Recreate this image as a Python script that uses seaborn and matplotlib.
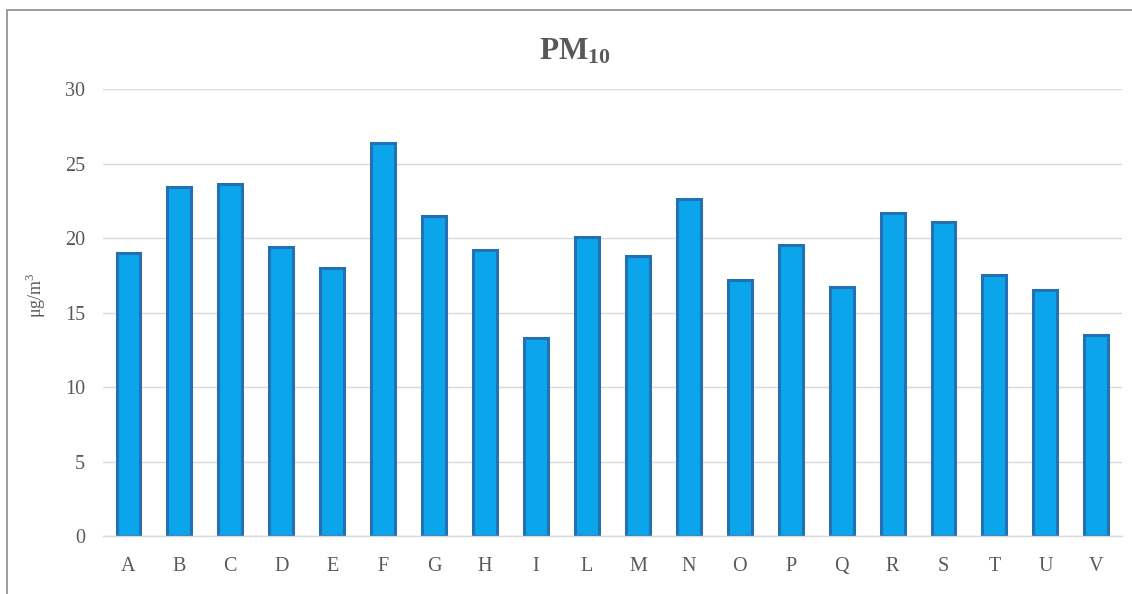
import matplotlib
matplotlib.use("Agg")
import matplotlib.pyplot as plt
import seaborn as sns
import pandas as pd
from matplotlib.patches import Rectangle

categories = ["A", "B", "C", "D", "E", "F", "G", "H", "I", "L",
              "M", "N", "O", "P", "Q", "R", "S", "T", "U", "V"]
pm10 = [19.0, 23.4, 23.6, 19.4, 18.0, 26.4, 21.5, 19.2, 13.3, 20.1,
        18.8, 22.6, 17.2, 19.5, 16.7, 21.7, 21.1, 17.5, 16.5, 13.5]
yticks = [0, 5, 10, 15, 20, 25, 30]

sns.set_style("white")
plt.rcParams['font.family'] = ['Liberation Serif', 'DejaVu Serif']
plt.rcParams['mathtext.fontset'] = 'custom'
plt.rcParams['mathtext.rm'] = 'Liberation Serif'
plt.rcParams['mathtext.bf'] = 'Liberation Serif:bold'

df = pd.DataFrame({"site": categories, "value": pm10})

fig = plt.figure(figsize=(11.32, 5.94), dpi=100)
ax = fig.add_axes([0.091, 0.0976, 0.900, 0.7525])

sns.barplot(data=df, x="site", y="value", ax=ax, color="#0BA5EC",
            edgecolor="#2470B3", linewidth=2.2, width=0.47, saturation=1)

ax.set_xlim(-0.5, len(categories) - 0.5)
ax.set_ylim(0, 30)
ax.set_yticks(yticks)
ax.yaxis.grid(True, color="#D9D9D9", linewidth=1)
ax.set_axisbelow(True)
for s in ["top", "right", "left"]:
    ax.spines[s].set_visible(False)
ax.spines["bottom"].set_color("#D9D9D9")
ax.spines["bottom"].set_linewidth(1)
ax.tick_params(axis="both", length=0, labelsize=14.5, colors="#595959")
ax.tick_params(axis="x", pad=15)
ax.tick_params(axis="y", pad=13)
ax.set_xlabel("")
ax.set_ylabel("μg/m$^3$", fontsize=13, color="#595959")
ax.yaxis.set_label_coords(-0.054, 0.54)

fig.text(0.508, 0.913, r"$\mathbf{PM_{10}}$", ha="center", va="center",
         fontsize=22.5, color="#595959")

fig.patches.append(Rectangle((7 / 1132, -0.1), 1.2, (594 - 10) / 594 + 0.1,
                             transform=fig.transFigure, fill=False,
                             edgecolor="#8C8C8C", linewidth=1.2))

fig.savefig("out.png", dpi=100)
